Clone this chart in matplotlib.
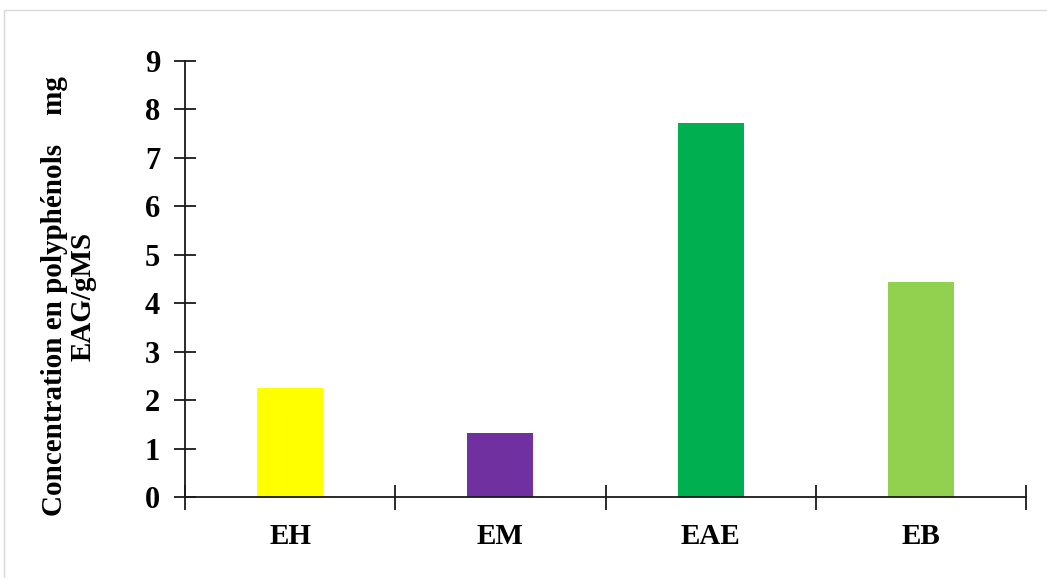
import matplotlib
matplotlib.use("Agg")
import matplotlib.pyplot as plt
from matplotlib.patches import Rectangle

# extracts and their total polyphenol content (mg EAG/g MS)
extraits = ["EH", "EM", "EAE", "EB"]
polyphenols = [2.25, 1.32, 7.73, 4.44]
couleurs = ["#FFFF00", "#7030A0", "#00B050", "#92D050"]

plt.rcParams["font.family"] = ["Liberation Serif", "DejaVu Serif"]
plt.rcParams["font.weight"] = "bold"

fig = plt.figure(figsize=(10.47, 5.78), dpi=100)
ax = fig.add_axes([0.1767, 0.140, 0.8033, 0.7545])

x = range(len(extraits))
ax.bar(x, polyphenols, width=0.314, color=couleurs)

ax.set_xlim(-0.5, len(extraits) - 0.5)
ax.set_ylim(0, 9)
ax.set_yticks(range(0, 10))
ax.set_xticks([i + 0.5 for i in range(-1, len(extraits))], minor=True)
ax.set_xticks(list(x))
ax.set_xticklabels(extraits)

for s in ["top", "right"]:
    ax.spines[s].set_visible(False)
for s in ["left", "bottom"]:
    ax.spines[s].set_linewidth(1.3)
    ax.spines[s].set_color("#1a1a1a")

ax.tick_params(axis="y", direction="inout", length=16, width=1.3,
               color="#1a1a1a", labelsize=22, pad=10)
ax.tick_params(axis="x", which="major", length=0, labelsize=21, pad=19)
ax.tick_params(axis="x", which="minor", direction="inout", length=18,
               width=1.3, color="#1a1a1a")

fig.text(0.0655, 0.487, "Concentration en polyphénols    mg\nEAG/gMS",
         rotation=90, ha="center", va="center", fontsize=21,
         fontweight="bold", linespacing=1.1, multialignment="center")

# light frame around the chart area
fig.patches.append(Rectangle((4 / 1047, -0.1), 1.2, 1 - 10 / 578 + 0.1,
                             transform=fig.transFigure, fill=False,
                             edgecolor="#d9d9d9", linewidth=1))

fig.savefig("out.png", dpi=100)
